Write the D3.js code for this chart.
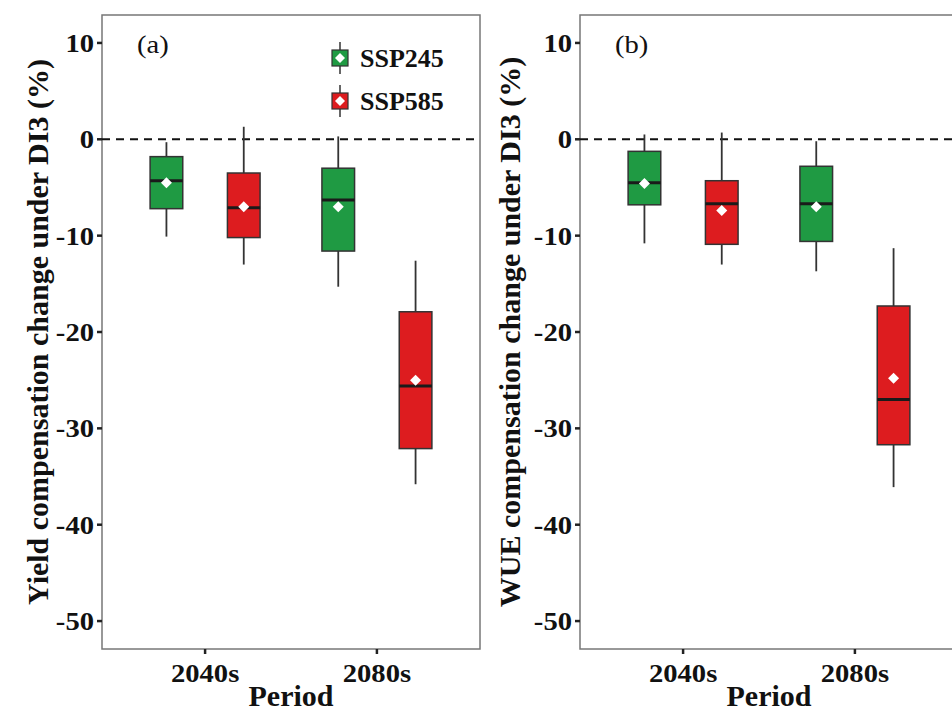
<!DOCTYPE html>
<html lang="en">
<head>
    <meta charset="UTF-8">
    <title>Compensation change under DI3</title>
</head>
<style>
    body { margin: 0; background: #fff; }
    svg text { font-family: "Liberation Serif", "DejaVu Serif", serif; fill: #111; }
    .tick-label { font-weight: bold; font-size: 26px; }
    .axis-title { font-weight: bold; font-size: 30px; }
</style>
<body>
<script src="https://d3js.org/d3.v7.min.js"></script>
<script>
    const width = 952, height = 713;

    const periods = ["2040s", "2080s"];
    const scenarios = ["SSP245", "SSP585"];
    const colors = ["#1f9a43", "#dd1c1f"];
    const yTicks = [10, 0, -10, -20, -30, -40, -50];

    // whisker low, q1, median, q3, whisker high, mean
    const yieldBoxes = [
        {period: "2040s", ssp: "SSP245", lo: -10.1, q1: -7.2, med: -4.3, q3: -1.8, hi: -0.3, mean: -4.5},
        {period: "2040s", ssp: "SSP585", lo: -13.0, q1: -10.2, med: -7.1, q3: -3.5, hi: 1.3, mean: -7.0},
        {period: "2080s", ssp: "SSP245", lo: -15.3, q1: -11.6, med: -6.3, q3: -3.0, hi: 0.3, mean: -7.0},
        {period: "2080s", ssp: "SSP585", lo: -35.8, q1: -32.1, med: -25.6, q3: -17.9, hi: -12.6, mean: -25.0}
    ];
    const wueBoxes = [
        {period: "2040s", ssp: "SSP245", lo: -10.8, q1: -6.8, med: -4.5, q3: -1.25, hi: 0.5, mean: -4.6},
        {period: "2040s", ssp: "SSP585", lo: -13.0, q1: -10.9, med: -6.7, q3: -4.3, hi: 0.7, mean: -7.4},
        {period: "2080s", ssp: "SSP245", lo: -13.7, q1: -10.6, med: -6.7, q3: -2.8, hi: -0.2, mean: -7.0},
        {period: "2080s", ssp: "SSP585", lo: -36.1, q1: -31.7, med: -27.0, q3: -17.3, hi: -11.3, mean: -24.8}
    ];

    const color = d3.scaleOrdinal(scenarios, colors);

    const svg = d3.select("body")
        .append("svg")
        .attr("width", width)
        .attr("height", height);

    const plotTop = 15, plotBottom = 649;
    const y = d3.scaleLinear().domain([-52.9, 12.9]).range([plotBottom, plotTop]);

    function diamond(g, cx, cy, r) {
        g.append("path")
            .attr("d", `M${cx},${cy - r}L${cx + r},${cy}L${cx},${cy + r}L${cx - r},${cy}Z`)
            .attr("fill", "#fff");
    }

    // text a bit wider than the font gives, like the reference
    function wideText(g, x, y, s, anchor, cls) {
        return g.append("text")
            .attr("class", cls)
            .attr("transform", `translate(${x},${y}) scale(1.1,1)`)
            .attr("text-anchor", anchor)
            .text(s);
    }

    function drawPanel(left, right, boxes, label, yTitle, titleX, legend) {
        const x = d3.scalePoint().domain(periods).range([left, right]).padding(0.6);
        const step = x.step();
        const dodge = d3.scaleBand().domain(scenarios).range([-0.45 * step, 0.45 * step]);
        const bw = 0.19 * step;
        const g = svg.append("g");

        // panel border
        g.append("rect")
            .attr("x", left).attr("y", plotTop)
            .attr("width", right - left).attr("height", plotBottom - plotTop)
            .attr("fill", "none").attr("stroke", "#777").attr("stroke-width", 1.5);

        // y axis ticks
        yTicks.forEach(function (t) {
            g.append("line")
                .attr("x1", left - 5).attr("x2", left)
                .attr("y1", y(t)).attr("y2", y(t))
                .attr("stroke", "#222").attr("stroke-width", 2.5);
            wideText(g, left - 8, y(t) + 9, t, "end", "tick-label");
        });

        // x axis ticks
        periods.forEach(function (p) {
            g.append("line")
                .attr("x1", x(p)).attr("x2", x(p))
                .attr("y1", plotBottom).attr("y2", plotBottom + 5)
                .attr("stroke", "#222").attr("stroke-width", 2.5);
            wideText(g, x(p), 682, p, "middle", "tick-label");
        });

        // zero line
        g.append("line")
            .attr("x1", left).attr("x2", right)
            .attr("y1", y(0)).attr("y2", y(0))
            .attr("stroke", "#111").attr("stroke-width", 2)
            .attr("stroke-dasharray", "8,6");

        // boxes
        boxes.forEach(function (d) {
            const cx = x(d.period) + dodge(d.ssp) + dodge.bandwidth() / 2;
            g.append("line")
                .attr("x1", cx).attr("x2", cx)
                .attr("y1", y(d.hi)).attr("y2", y(d.lo))
                .attr("stroke", "#333").attr("stroke-width", 1.8);
            g.append("rect")
                .attr("x", cx - bw / 2).attr("y", y(d.q3))
                .attr("width", bw).attr("height", y(d.q1) - y(d.q3))
                .attr("fill", color(d.ssp))
                .attr("stroke", "#333").attr("stroke-width", 1.5);
            g.append("line")
                .attr("x1", cx - bw / 2).attr("x2", cx + bw / 2)
                .attr("y1", y(d.med)).attr("y2", y(d.med))
                .attr("stroke", "#1a1a1a").attr("stroke-width", 3);
            diamond(g, cx, y(d.mean), 5.5);
        });

        // panel label
        g.append("text")
            .attr("transform", `translate(${left + 35},53) scale(1.1,1)`)
            .attr("font-size", 26)
            .text(label);

        // titles
        g.append("text")
            .attr("class", "axis-title")
            .attr("transform", `translate(${titleX},${(plotTop + plotBottom) / 2}) rotate(-90)`)
            .attr("text-anchor", "middle")
            .text(yTitle);
        g.append("text")
            .attr("class", "axis-title")
            .attr("font-size", 28)
            .attr("x", (left + right) / 2).attr("y", 706)
            .attr("text-anchor", "middle")
            .text("Period");

        if (legend) {
            scenarios.forEach(function (s, i) {
                const ky = 58 + i * 43;
                const kx = 340;
                g.append("line")
                    .attr("x1", kx).attr("x2", kx)
                    .attr("y1", ky - 16).attr("y2", ky + 16)
                    .attr("stroke", "#333").attr("stroke-width", 1.5);
                g.append("rect")
                    .attr("x", kx - 8).attr("y", ky - 8)
                    .attr("width", 16).attr("height", 16)
                    .attr("fill", color(s))
                    .attr("stroke", "#333").attr("stroke-width", 1.2);
                diamond(g, kx, ky, 5);
                g.append("text")
                    .attr("class", "tick-label")
                    .attr("font-size", 24)
                    .attr("x", kx + 20).attr("y", ky)
                    .attr("dy", "0.35em")
                    .text(s);
            });
        }
    }

    drawPanel(102, 480, yieldBoxes, "(a)", "Yield compensation change under DI3 (%)", 48, true);
    drawPanel(580, 958, wueBoxes, "(b)", "WUE compensation change under DI3 (%)", 520, false);
</script>
</body>
</html>
